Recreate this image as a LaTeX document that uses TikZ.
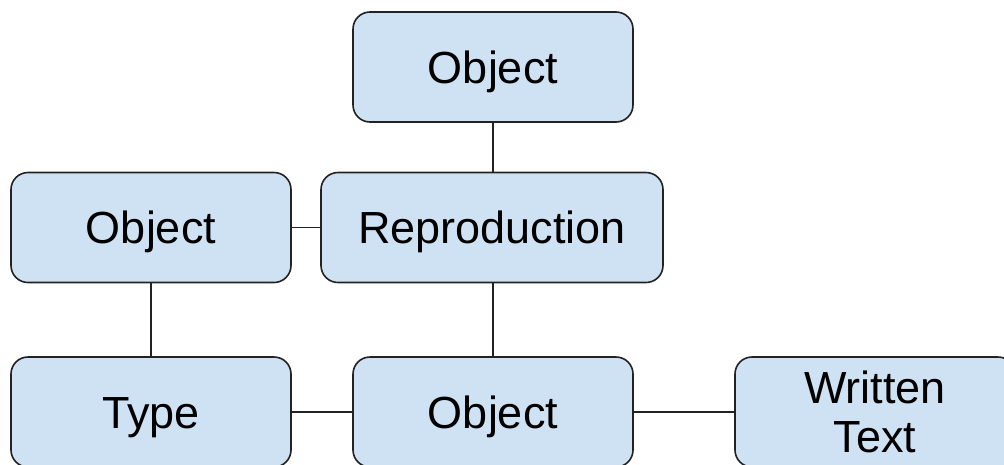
\documentclass[tikz,border=0pt]{standalone}
\usepackage{fontspec}
\setmainfont{Liberation Sans}
\definecolor{boxfill}{HTML}{CFE2F3}
\definecolor{boxline}{HTML}{222222}
\begin{document}
\begin{tikzpicture}[x=1pt,y=-1pt,
  box/.style={draw=boxline,fill=boxfill,line width=1.6pt,rounded corners=17pt,
    minimum height=110pt,inner sep=0pt,align=center,
    text height=32pt,text depth=0pt,
    font=\fontsize{45}{49}\selectfont},
  link/.style={draw=boxline,line width=1.6pt}]
\useasboundingbox (0,0) rectangle (1004,464);
\node[box,minimum width=280pt] (top) at (493,67) {Object};
\node[box,minimum width=342pt] (rep) at (492,227.5) {Reproduction};
\node[box,minimum width=280pt] (objl) at (151,227.5) {Object};
\node[box,minimum width=280pt] (type) at (151,412) {Type};
\node[box,minimum width=280pt] (objb) at (493,412) {Object};
\node[box,minimum width=280pt,text height=81pt] (wt) at (875,412) {Written\\Text};
\draw[link] (top.south) -- (top.south |- rep.north);
\draw[link] (objl.east) -- (rep.west);
\draw[link] (objl.south) -- (type.north);
\draw[link] (objb.north |- rep.south) -- (objb.north);
\draw[link] (type.east) -- (objb.west);
\draw[link] (objb.east) -- (wt.west);
\end{tikzpicture}
\end{document}
